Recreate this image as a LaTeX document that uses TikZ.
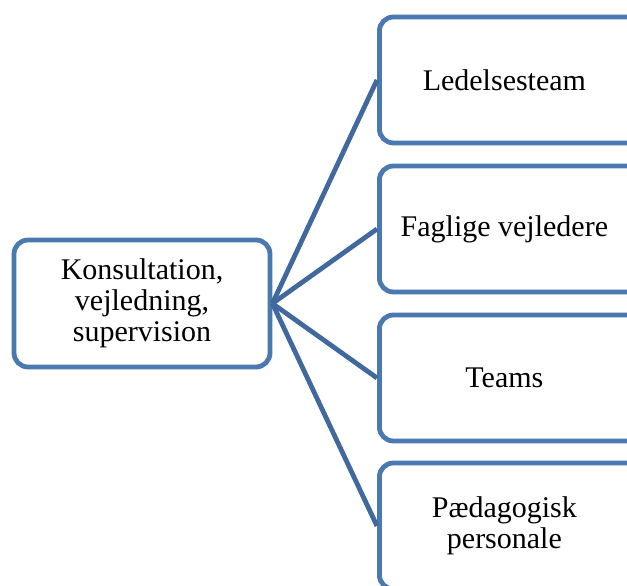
\documentclass[tikz,border=0pt]{standalone}
\usepackage{fontspec}
\setmainfont{Liberation Serif}
\definecolor{boxblue}{HTML}{4A78B0}
\definecolor{lineblue}{HTML}{41699D}

\begin{document}
\begin{tikzpicture}[x=1pt,y=1pt,
    box/.style={draw=boxblue, line width=4.8pt, rounded corners=14pt, fill=white,
        align=center, font=\fontsize{30}{31}\selectfont, inner sep=0pt},
    leftbox/.style={box, minimum width=256pt, minimum height=127pt},
    rightbox/.style={box, minimum width=270pt, minimum height=126pt, anchor=west},
    link/.style={draw=lineblue, line width=4.8pt}]
    \useasboundingbox (0,0) rectangle (627,586);
    \clip (0,0) rectangle (627,586);

    % left box
    \node[leftbox] (konsultation) at (142,282.5) {Konsultation,\\vejledning,\\supervision};

    % right boxes, cut off at the edge
    \node[rightbox] (ledelse) at (377,506) {\hspace*{-20pt}Ledelsesteam};
    \node[rightbox] (faglige) at (377,357) {\hspace*{-20pt}Faglige vejledere};
    \node[rightbox] (teams) at (377,208) {\hspace*{-20pt}Teams};
    \node[rightbox] (paedagogisk) at (377,60) {\hspace*{-20pt}Pædagogisk\\\hspace*{-20pt}personale};

    % links
    \draw[link] (konsultation.east) -- (ledelse.west);
    \draw[link] (konsultation.east) -- (faglige.west);
    \draw[link] (konsultation.east) -- (teams.west);
    \draw[link] (konsultation.east) -- (paedagogisk.west);
\end{tikzpicture}
\end{document}
